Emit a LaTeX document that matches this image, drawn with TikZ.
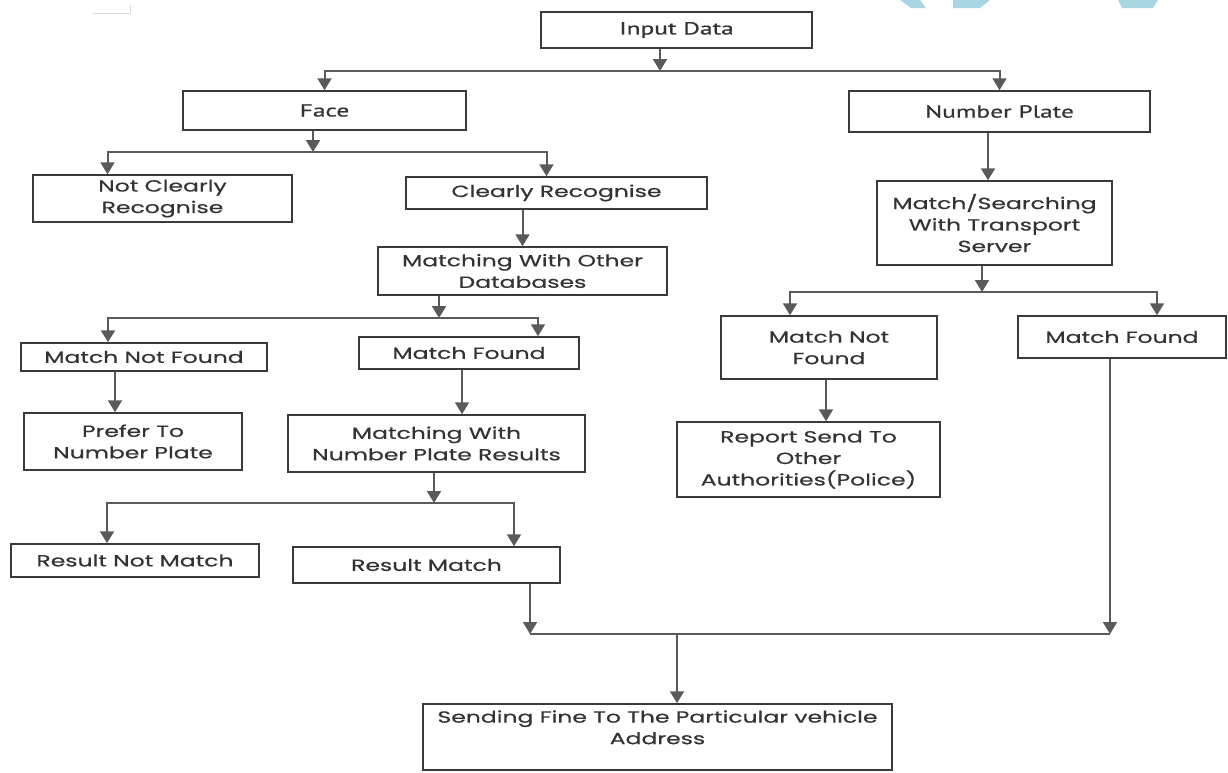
\documentclass[tikz,border=0pt]{standalone}
\usepackage{fontspec}
\setmainfont{Poppins}[FakeStretch=1.45, FakeBold=0.5]
\newfontfamily\narrowfont{PT Sans}[FakeStretch=1.45, FakeBold=0.6]
\usepackage{tikz}
\usetikzlibrary{arrows.meta}
\definecolor{boxgray}{HTML}{3A3A3A}
\definecolor{arrowgray}{HTML}{5A5A5A}
\definecolor{textgray}{HTML}{333333}
\definecolor{markcyan}{HTML}{A8D5E2}
\tikzset{box/.style={draw=boxgray, line width=1.5pt, inner sep=2pt, align=center,
      text=textgray, font=\fontsize{16.2}{21.5}\selectfont}}
\tikzset{wh/.style 2 args={minimum width=#1, minimum height=#2}}
\tikzset{arr/.style={draw=arrowgray, line width=2pt, -{Triangle[width=14pt,length=12pt]}}}
\tikzset{line/.style={draw=arrowgray, line width=2pt}}

\begin{document}
\begin{tikzpicture}[x=1pt,y=-1pt]
    \useasboundingbox (0,0) rectangle (1228,772);
    % watermark pieces and corner mark
    \fill[markcyan] (900,0) -- (920,0) -- (926,8) -- (911,8) -- cycle;
    \fill[markcyan] (953,0) -- (990,0) -- (980,8) -- (953,8) -- cycle;
    \fill[markcyan] (1118,0) -- (1158,0) -- (1153,8) -- (1122,8) -- cycle;
    \draw[black!15, line width=1pt] (93,13) -- (130,13) -- (130,5);

    % boxes
    \node[box, wh={271}{36}, font=\narrowfont\fontsize{17.5}{21.5}\selectfont] (input) at (676.5,30) {Input Data};
    \node[box, wh={283}{39}, font=\narrowfont\fontsize{17.5}{21.5}\selectfont] (face) at (324.5,110.5) {Face};
    \node[box, wh={301}{41}, font=\narrowfont\fontsize{17.5}{21.5}\selectfont] (plate) at (999.5,111.5) {Number Plate};
    \node[box, wh={259}{47}] (notclear) at (162.5,198.5) {Not Clearly\\Recognise};
    \node[box, wh={301}{32}] (clear) at (556.5,193) {Clearly Recognise};
    \node[box, wh={235}{84}] (search) at (994.5,223) {Match/Searching\\With Transport\\Server};
    \node[box, wh={289}{48}] (otherdb) at (522.5,271) {Matching With Other\\Databases};
    \node[box, wh={246}{28}] (lnotfound) at (144,357) {Match Not Found};
    \node[box, wh={220}{32}] (lfound) at (469,353) {Match Found};
    \node[box, wh={216}{63}] (rnotfound) at (829,347.5) {Match Not\\Found};
    \node[box, wh={208}{42}] (rfound) at (1122,337) {Match Found};
    \node[box, wh={218}{57}] (prefer) at (133,441.5) {Prefer To\\Number Plate};
    \node[box, wh={297}{57}] (npresult) at (436.5,443.5) {Matching With\\Number Plate Results};
    \node[box, wh={263}{75}] (report) at (808.5,459.5) {Report Send To\\Other\\Authorities(Police)};
    \node[box, wh={248}{33}] (resnot) at (135,560.5) {Result Not Match};
    \node[box, wh={267}{36}] (resmatch) at (426.5,565) {Result Match};
    \node[box, wh={469}{66}] (fine) at (657.5,737) {Sending Fine To The Particular vehicle\\Address\\[-2pt]};

    % junctions
    \coordinate (j1) at (660,71);
    \coordinate (j2) at (313,152);
    \coordinate (j3) at (439,318);
    \coordinate (j4) at (982,292);
    \coordinate (j5) at (434,503);
    \coordinate (j6) at (677,634);

    % input data
    \draw[arr] (input.south -| j1) -- (j1);
    \draw[arr] (j1) -| (face.north);
    \draw[arr] (j1) -| (plate.north);

    % face side
    \draw[arr] (face.south -| j2) -- (j2);
    \draw[arr] (j2) -| ([xshift=-55pt]notclear.north);
    \draw[arr] (j2) -| ([xshift=-10pt]clear.north);
    \draw[arr] (otherdb.north |- clear.south) -- (otherdb.north);
    \draw[arr] (otherdb.south -| j3) -- (j3);
    \draw[arr] (j3) -| ([xshift=-36pt]lnotfound.north);
    \draw[arr] (j3) -| ([xshift=69pt]lfound.north);
    \draw[arr] ([xshift=-18pt]prefer.north |- lnotfound.south) -- ([xshift=-18pt]prefer.north);
    \draw[arr] ([xshift=-7pt]lfound.south) -- ([xshift=-7pt]lfound.south |- npresult.north);
    \draw[arr] (npresult.south -| j5) -- (j5);
    \draw[arr] (j5) -| ([xshift=-28pt]resnot.north);
    \draw[arr] (j5) -| ([xshift=87.5pt]resmatch.north);

    % number plate side
    \draw[arr] ([xshift=-6.5pt]search.north |- plate.south) -- ([xshift=-6.5pt]search.north);
    \draw[arr] (search.south -| j4) -- (j4);
    \draw[arr] (j4) -| ([xshift=-39pt]rnotfound.north);
    \draw[arr] (j4) -| ([xshift=35pt]rfound.north);
    \draw[arr] ([xshift=-3pt]rnotfound.south) -- ([xshift=-3pt]rnotfound.south |- report.north);

    % fine
    \draw[arr] ([xshift=103.5pt]resmatch.south) -- ([xshift=103.5pt]resmatch.south |- j6);
    \draw[arr] ([xshift=-12pt]rfound.south) -- ([xshift=-12pt]rfound.south |- j6);
    \draw[line] ([xshift=103.5pt]resmatch.south |- j6) -- ([xshift=-12pt]rfound.south |- j6);
    \draw[arr] (j6) -- (j6 |- fine.north);
  \end{tikzpicture}
\end{document}
